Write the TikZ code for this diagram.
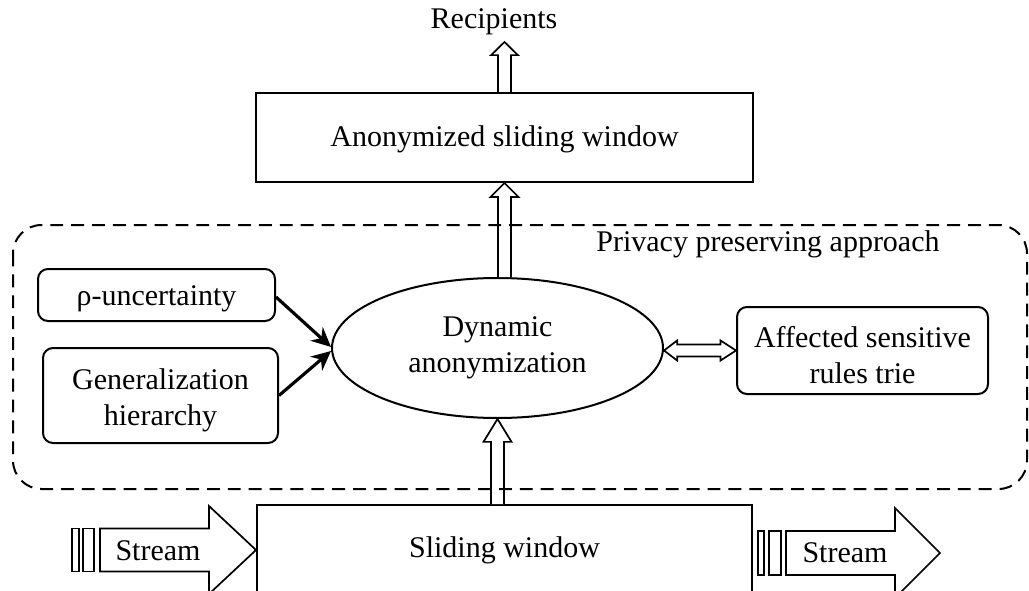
\documentclass[tikz,border=0pt]{standalone}
\usepackage{fontspec}
\setmainfont{Liberation Serif}
\usetikzlibrary{shapes.geometric,arrows.meta,calc}

% Vertical block arrow: tail at #1, tip at #2 (x taken from the tip),
% #3 shaft half width, #4 head half width, #5 head length
\newcommand{\hollowvert}[5]{%
  \path[hollow] let \p1=(#1), \p2=(#2) in
    (\x2-#3,\y1) -- (\x2-#3,\y2-#5) -- (\x2-#4,\y2-#5) -- (\x2,\y2)
    -- (\x2+#4,\y2-#5) -- (\x2+#3,\y2-#5) -- (\x2+#3,\y1);}

\begin{document}
\begin{tikzpicture}[x=0.35pt,y=-0.35pt,
  every node/.style={font=\fontsize{10.5pt}{12.6pt}\selectfont, inner sep=0pt},
  plainbox/.style={draw, line width=0.7pt, align=center},
  roundbox/.style={plainbox, rounded corners=3.5pt},
  boxtext/.style 2 args={label={[align=center,yshift=#2]center:#1}},
  hollow/.style={draw, fill=white, line width=0.6pt, line join=miter},
  feed/.style={-{Stealth[length=6.8pt,width=6.4pt,inset=2.2pt]}, line width=1.1pt},
  group/.style={draw, line width=0.7pt, dash pattern=on 4.5pt off 2.8pt, rounded corners=10pt},
]
\useasboundingbox (0,0) rectangle (1029,591);
\clip (0,0) rectangle (1029,591);
\fill[white] (0,0) rectangle (1029,591);

% boxes
\node[plainbox, minimum width=173.95pt, minimum height=31.15pt,
      boxtext={Anonymized sliding window}{-0.7pt}] (anon) at (504.5,137.5) {};
\node[plainbox, minimum width=173.25pt, minimum height=31.5pt] (sw) at (504.5,550) {Sliding window};
\node[draw, ellipse, line width=0.7pt, align=center, minimum width=115.85pt, minimum height=49pt] (dyn) at (497.5,348) {Dynamic\\anonymization};
\node[roundbox, minimum width=82.95pt, minimum height=18.2pt,
      boxtext={ρ-uncertainty}{-1.3pt}] (rho) at (156.5,295) {};
\node[roundbox, minimum width=82.25pt, minimum height=33.25pt,
      boxtext={Generalization\\hierarchy}{-1.6pt}] (gen) at (160.5,395.5) {};
\node[roundbox, minimum width=87.85pt, minimum height=30.45pt,
      boxtext={Affected sensitive\\rules trie}{-1.6pt}] (aff) at (862.5,350.5) {};

\node (recip) at (494,22) {Recipients};
\coordinate (rtip) at (504.5,42);
\node (ppa) at (768,244) {Privacy preserving approach};

% block arrows along the vertical flow
\hollowvert{anon.north}{rtip}{2.3pt}{4.7pt}{4.6pt}
\hollowvert{dyn.north}{anon.south}{2.3pt}{4.9pt}{4.9pt}
\hollowvert{sw.north}{dyn.south}{2.3pt}{4.9pt}{8pt}

% two-way link to the rules trie
\path[hollow] let \p1=(dyn.east), \p2=(aff.west) in
  (\x1,\y2) -- (\x1+4.6pt,\y2+3.5pt) -- (\x1+4.6pt,\y2+2.1pt) -- (\x2-5.4pt,\y2+2.1pt)
  -- (\x2-5.4pt,\y2+3.5pt) -- (\x2,\y2) -- (\x2-5.4pt,\y2-3.5pt) -- (\x2-5.4pt,\y2-2.1pt)
  -- (\x1+4.6pt,\y2-2.1pt) -- (\x1+4.6pt,\y2-3.5pt) -- cycle;

% inputs to the anonymization step
\draw[feed] (rho.east) ++(0,2) -- ($(dyn.west)+(0,-1)$);
\draw[feed] (gen.east) -- ($(dyn.west)+(0,3)$);

% incoming stream
\path[hollow] (72,528.5) rectangle (79,571.5);
\path[hollow] (83,528.5) rectangle (94,571.5);
\path[hollow] (100,528.5) -- (209,528.5) -- (209,506) -- (sw.west) -- (209,594) -- (209,571.5) -- (100,571.5) -- cycle;
\node (sin) at (158,551) {Stream};

% outgoing stream
\coordinate (out) at (940,553);
\path[hollow] (758,531) rectangle (764,575);
\path[hollow] (769,531) rectangle (781,575);
\path[hollow] (786,531) -- (895,531) -- (895,508) -- (out) -- (895,598) -- (895,575) -- (786,575) -- cycle;
\node (sout) at (845,553) {Stream};

% privacy preserving group
\draw[group] (13,225) rectangle (1027,489);
\end{tikzpicture}
\end{document}
